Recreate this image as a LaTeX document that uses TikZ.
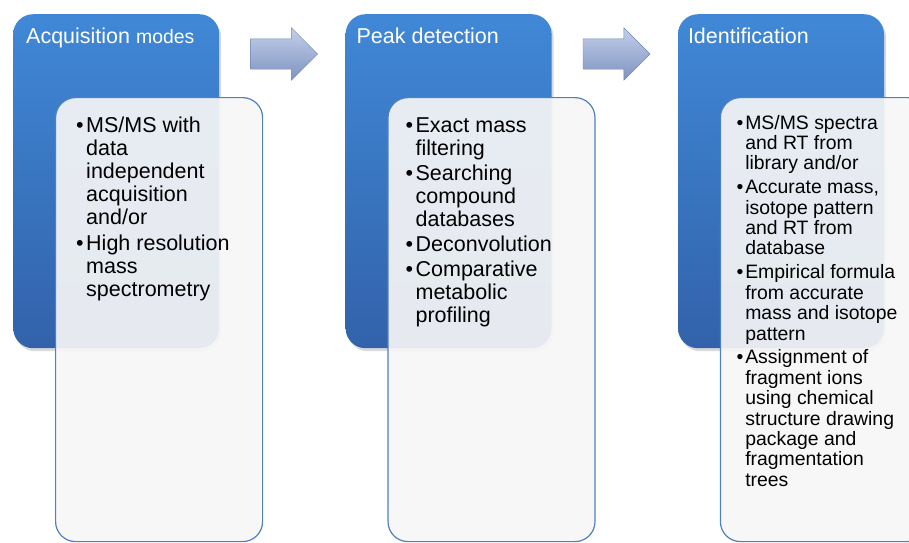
\documentclass[tikz,border=0pt]{standalone}
\usepackage{fontspec}
\setmainfont{Liberation Sans}
\usetikzlibrary{positioning,shapes.arrows,shadows}
\definecolor{stagetop}{HTML}{4088D7}
\definecolor{stagebot}{HTML}{3262AA}
\definecolor{frame}{HTML}{4F81BD}
\definecolor{paper}{HTML}{F6F6F6}
\definecolor{arrtop}{HTML}{C3D0EA}
\definecolor{arrbot}{HTML}{7F92C0}
\definecolor{arredge}{HTML}{7085B5}

\newcommand{\bul}{\textbullet}

\begin{document}
\begin{tikzpicture}[x=1pt, y=1pt,
    stage/.style={rounded corners=20pt, top color=stagetop, bottom color=stagebot,
                  minimum width=206pt, minimum height=334pt, inner sep=0pt,
                  drop shadow={shadow xshift=2pt, shadow yshift=-3pt, opacity=0.3}},
    detail/.style={draw=frame, line width=1.2pt, fill=paper, fill opacity=0.92,
                   rounded corners=20pt, minimum width=207pt, minimum height=444pt, inner sep=0pt},
    heading/.style={text=white, inner sep=0pt, anchor=base west, font=\fontsize{21.5}{24}\selectfont},
    items/.style={inner sep=0pt, anchor=base west, font=\fontsize{21.5}{23}\selectfont},
    smallitems/.style={items, font=\fontsize{19.4}{20.4}\selectfont},
    flowarrow/.style={single arrow, single arrow head extend=11pt, minimum height=67pt,
                      inner xsep=0pt, inner ysep=15pt, top color=arrtop, bottom color=arrbot,
                      draw=arredge, line width=0.4pt, anchor=tail},
  ]
  \useasboundingbox (0,0) rectangle (909,-542);
  \clip (0,0) rectangle (909,-542);

  % the three stages
  \node[stage, anchor=north west] (acq) at (13,-14) {};
  \node[stage, right=126pt of acq] (peak) {};
  \node[stage, right=126pt of peak] (ident) {};

  \node[heading] (acqt) at ([shift={(13,-29.5)}]acq.north west)
    {Acquisition {\fontsize{19.4}{22}\selectfont modes}};
  \node[heading] (peakt) at ([shift={(11,-29.5)}]peak.north west) {Peak detection};
  \node[heading] (identt) at ([shift={(10,-29.5)}]ident.north west) {Identification};

  \node[flowarrow] (go1) at ([shift={(31,-40)}]acq.north east) {};
  \node[flowarrow] (go2) at ([shift={(31,-40)}]peak.north east) {};

  % light panels with the details, laid over the stages
  \node[detail, below right=83pt and 42pt of acq.north west] (acqbox) {};
  \node[detail, below right=83pt and 42pt of peak.north west] (peakbox) {};
  \node[detail, below right=83pt and 42pt of ident.north west] (identbox) {};

  \node[items] (acqlist) at ([shift={(21,-35)}]acqbox.north west) {%
    \begin{tabular}[t]{@{}l@{\hspace{2.5pt}}l@{}}
      \bul & MS/MS with\\ & data\\ & independent\\ & acquisition\\ & and/or\\[3pt]
      \bul & High resolution\\ & mass\\ & spectrometry
    \end{tabular}};
  \node[items] (peaklist) at ([shift={(18,-35)}]peakbox.north west) {%
    \begin{tabular}[t]{@{}l@{\hspace{2.5pt}}l@{}}
      \bul & Exact mass\\ & filtering\\[2pt]
      \bul & Searching\\ & compound\\ & databases\\[2pt]
      \bul & Deconvolution\\[2pt]
      \bul & Comparative\\ & metabolic\\ & profiling
    \end{tabular}};
  \node[smallitems] (identlist) at ([shift={(16.5,-32)}]identbox.north west) {%
    \begin{tabular}[t]{@{}l@{\hspace{2pt}}l@{}}
      \bul & MS/MS spectra\\ & and RT from\\ & library and/or\\[3.5pt]
      \bul & Accurate mass,\\ & isotope pattern\\ & and RT from\\ & database\\[3.5pt]
      \bul & Empirical formula\\ & from accurate\\ & mass and isotope\\ & pattern\\[3.5pt]
      \bul & Assignment of\\ & fragment ions\\ & using chemical\\ & structure drawing\\
           & package and\\ & fragmentation\\ & trees
    \end{tabular}};
\end{tikzpicture}
\end{document}
